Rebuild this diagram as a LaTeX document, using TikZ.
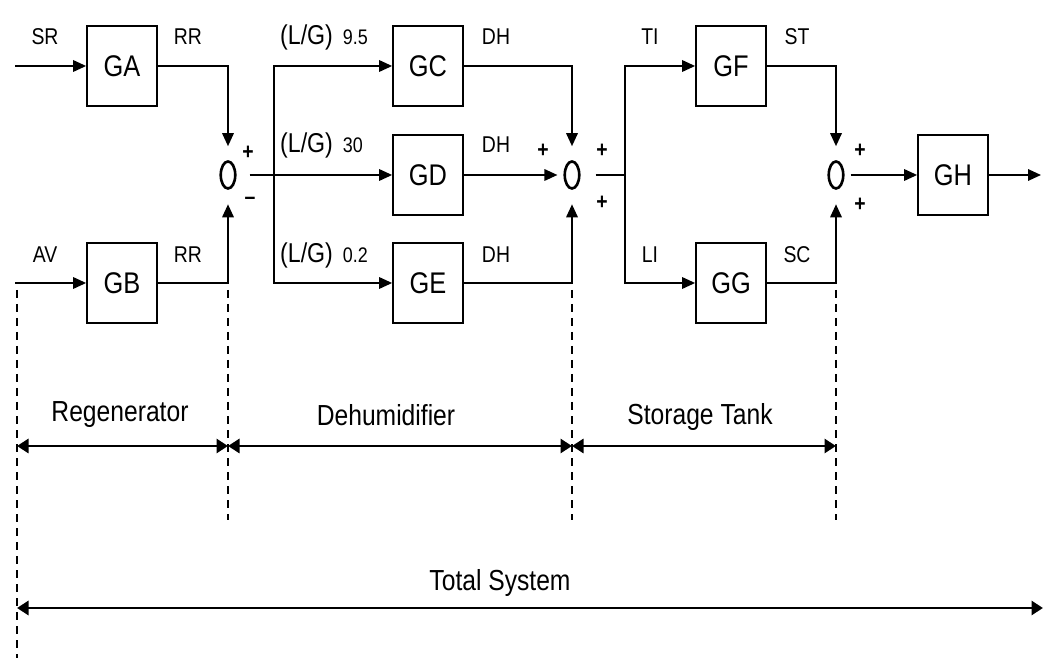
\documentclass[tikz,border=0pt]{standalone}
\usepackage{fontspec}
\setmainfont[FakeStretch=0.85]{Liberation Sans}
\usepackage{tikz}
\usetikzlibrary{arrows.meta,shapes.geometric}
\tikzset{
  blk/.style={draw,line width=1pt,minimum width=14mm,minimum height=16mm,inner sep=0pt,font=\fontsize{17}{19}\selectfont},
  lbl/.style={font=\fontsize{13}{15}\selectfont},
  sec/.style={font=\fontsize{16.5}{18}\selectfont},
  sgn/.style={font=\fontsize{13}{14}\selectfont\bfseries},
  summer/.style={ellipse,draw,line width=1.5pt,minimum width=2.9mm,minimum height=5.4mm,inner sep=0pt},
  sig/.style={line width=1pt},
  arr/.style={line width=1pt,-{Triangle[length=2.6mm,width=2.3mm]}},
  span/.style={line width=1.6pt,{Triangle[length=2.3mm,width=2.8mm]}-{Triangle[length=2.3mm,width=2.8mm]}},
  bound/.style={line width=0.7pt,dash pattern=on 1.6mm off 1.2mm}
}
\begin{document}
\begin{tikzpicture}[x=0.2mm,y=-0.2mm]
    \useasboundingbox (0,0) rectangle (1043,658);
    \node[blk] (ga) at (122,66) {GA};
    \node[blk] (gb) at (122,283) {GB};
    \node[blk] (gc) at (428,66) {GC};
    \node[blk] (gd) at (428,175) {GD};
    \node[blk] (ge) at (428,283) {GE};
    \node[blk] (gf) at (731,66) {GF};
    \node[blk] (gg) at (731,283) {GG};
    \node[blk] (gh) at (953,175) {GH};
    \node[summer] (s1) at (228,175) {};
    \node[summer] (s2) at (572,175) {};
    \node[summer] (s3) at (836,175) {};

    \coordinate (insr) at (15,66);
    \coordinate (inav) at (15,283);
    \coordinate (b1) at (274,175);
    \coordinate (b2) at (625,175);
    \coordinate (out) at (1041,175);

    \draw[arr] (insr) -- (ga);
    \draw[arr] (inav) -- (gb);
    \draw[arr,shorten >=2.8mm] (ga) -| (s1);
    \draw[arr,shorten >=2.9mm] (gb) -| (s1);
    \draw[arr,shorten <=2.6mm] (s1) -- (gd);
    \draw[arr] (b1) |- (gc);
    \draw[arr] (b1) |- (ge);
    \draw[arr,shorten >=2.8mm] (gc) -| (s2);
    \draw[arr,shorten >=1.2mm] (gd) -- (s2);
    \draw[arr,shorten >=2.9mm] (ge) -| (s2);
    \draw[sig,shorten <=3mm] (s2) -- (b2);
    \draw[arr] (b2) |- (gf);
    \draw[arr] (b2) |- (gg);
    \draw[arr,shorten >=2.8mm] (gf) -| (s3);
    \draw[arr,shorten >=2.9mm] (gg) -| (s3);
    \draw[arr,shorten <=1.2mm] (s3) -- (gh);
    \draw[arr] (gh) -- (out);

    \node[lbl] (sr) at (45,37) {SR};
    \node[lbl] (rra) at (188,37) {RR};
    \node[lbl] (av) at (45,255) {AV};
    \node[lbl] (rrb) at (188,255) {RR};
    \node[lbl,anchor=west] (lgc) at (274,37) {\fontsize{15.5}{17}\selectfont(L/G)\hspace{2mm}{\fontsize{12}{14}\selectfont 9.5}};
    \node[lbl,anchor=west] (lgd) at (274,145) {\fontsize{15.5}{17}\selectfont(L/G)\hspace{2mm}{\fontsize{12}{14}\selectfont 30}};
    \node[lbl,anchor=west] (lge) at (274,255) {\fontsize{15.5}{17}\selectfont(L/G)\hspace{2mm}{\fontsize{12}{14}\selectfont 0.2}};
    \node[lbl] (dhc) at (496,37) {DH};
    \node[lbl] (dhd) at (496,145) {DH};
    \node[lbl] (dhe) at (496,255) {DH};
    \node[lbl] (ti) at (650,37) {TI};
    \node[lbl] (li) at (650,255) {LI};
    \node[lbl] (st) at (797,37) {ST};
    \node[lbl] (sc) at (797,255) {SC};

    \node[sgn] (p1) at (248,153) {+};
    \node[sgn] (m1) at (250,201) {–};
    \node[sgn] (p2) at (543,151) {+};
    \node[sgn] (p3) at (602,151) {+};
    \node[sgn] (p4) at (602,203) {+};
    \node[sgn] (p5) at (860,151) {+};
    \node[sgn] (p6) at (860,205) {+};

    \coordinate (da) at (17,290);
    \coordinate (db) at (228,290);
    \coordinate (dc) at (572,290);
    \coordinate (dd) at (836,290);
    \coordinate (dae) at (17,658);
    \coordinate (dbe) at (228,520);
    \coordinate (dce) at (572,520);
    \coordinate (dde) at (836,520);
    \draw[bound] (da) -- (dae);
    \draw[bound] (db) -- (dbe);
    \draw[bound] (dc) -- (dce);
    \draw[bound] (dd) -- (dde);

    \coordinate (ra) at (17,446);
    \coordinate (rb) at (228,446);
    \coordinate (rc) at (572,446);
    \coordinate (rd) at (836,446);
    \coordinate (ta) at (17,608);
    \coordinate (tb) at (1043,608);
    \draw[span] (ra) -- (rb);
    \draw[span] (rb) -- (rc);
    \draw[span] (rc) -- (rd);
    \draw[span] (ta) -- (tb);
    \node[sec] (regen) at (120,415) {Regenerator};
    \node[sec] (dehum) at (386,415) {Dehumidifier};
    \node[sec] (store) at (700,417) {Storage Tank};
    \node[sec] (total) at (500,583) {Total System};
  \end{tikzpicture}
\end{document}
